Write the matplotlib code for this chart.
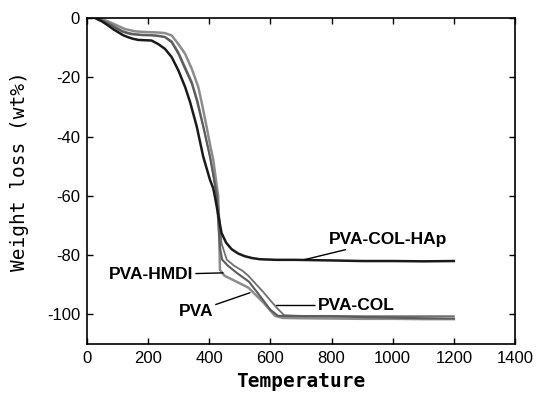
import matplotlib
matplotlib.use("Agg")
import matplotlib.pyplot as plt

plt.rcParams["axes.unicode_minus"] = False

# ---- data ----
t_hap = [26, 50, 70, 86, 102, 118, 135, 150, 168, 190, 211, 233, 255, 277, 299, 321, 337,
         359, 380, 402, 413, 419, 425, 432, 440, 455, 473, 495, 517, 540, 566, 620, 680,
         800, 900, 1000, 1100, 1200]
w_hap = [0, -1.2, -2.6, -3.8, -4.8, -5.8, -6.5, -7.0, -7.4, -7.5, -7.6, -8.8, -10.4, -13.2,
         -17.7, -23.3, -28.3, -36.6, -46.7, -54.5, -57.5, -60.6, -64, -68, -72.5, -75.8,
         -78, -79.5, -80.4, -81.0, -81.4, -81.6, -81.6, -81.8, -82, -82, -82.1, -82]

t_hmdi = [30, 55, 81, 97, 113, 130, 146, 180, 211, 233, 255, 277, 299, 321, 343, 359, 380,
          402, 413, 424, 430, 436, 442, 460, 490, 530, 560, 600, 625, 700, 800, 900, 1000,
          1100, 1200]
w_hmdi = [0, -1.2, -2.6, -3.6, -4.5, -5.1, -5.5, -5.8, -5.9, -6.1, -6.5, -8.2, -12.1, -17.2,
          -22.2, -27.8, -36.6, -46.7, -53, -60, -70, -78, -81.5, -83.5, -86, -89, -93, -98.5,
          -100.5, -100.6, -100.7, -100.9, -101.1, -101.3, -101.4]

t_col = [32, 58, 84, 100, 116, 133, 150, 180, 211, 233, 255, 277, 299, 321, 343, 362, 383,
         405, 415, 426, 432, 440, 457, 480, 510, 528, 550, 577, 600, 620, 645, 700, 800,
         900, 1000, 1100, 1200]
w_col = [0, -1.1, -2.4, -3.4, -4.3, -4.9, -5.3, -5.6, -5.7, -5.9, -6.3, -7.8, -11.5, -16.5,
         -21.5, -28.0, -37.5, -48, -54, -60, -66, -76, -81.5, -83.5, -85.4, -87, -89.5,
         -92.5, -95.3, -97.7, -100.3, -100.5, -100.5, -100.6, -100.6, -100.6, -100.6]

t_pva = [40, 70, 100, 124, 140, 157, 185, 211, 233, 255, 277, 299, 321, 343, 364, 375, 391,
         402, 413, 421, 429, 432, 435, 450, 480, 528, 577, 615, 640, 700, 800, 900, 1000,
         1100, 1200]
w_pva = [0, -1.2, -2.6, -3.7, -4.1, -4.5, -4.7, -4.8, -4.9, -5.1, -5.9, -8.8, -12.1, -17.2,
         -23.3, -28.4, -36.6, -42.5, -47.8, -54, -60, -72, -85, -87, -88.5, -91, -96,
         -100.5, -101.2, -101.3, -101.4, -101.5, -101.5, -101.6, -101.6]

x_ticks = [0, 200, 400, 600, 800, 1000, 1200, 1400]
y_ticks = [0, -20, -40, -60, -80, -100]

sans = ["Liberation Sans", "DejaVu Sans"]
mono = ["DejaVu Sans Mono", "DejaVu Sans"]

fig = plt.figure(figsize=(5.36, 3.99), dpi=100)
ax = fig.add_axes([0.1623, 0.1378, 0.7985, 0.8171])

ax.plot(t_pva, w_pva, color="#8c8c8c", lw=1.8)
ax.plot(t_col, w_col, color="#707070", lw=1.3)
ax.plot(t_hmdi, w_hmdi, color="#5c5c5c", lw=1.5)
ax.plot(t_hap, w_hap, color="#1a1a1a", lw=1.8)

ax.set_xlim(0, 1400)
ax.set_ylim(-110, 0)
ax.set_xticks(x_ticks)
ax.set_yticks(y_ticks)
ax.tick_params(direction="in", top=True, right=True, length=4, width=1.0,
               labelsize=12, pad=5)
for lab in ax.get_xticklabels() + ax.get_yticklabels():
    lab.set_family(sans)
for s in ax.spines.values():
    s.set_linewidth(1.2)

ax.set_xlabel("Temperature", family=mono, fontsize=14, fontweight="bold", labelpad=4)
ax.set_ylabel("Weight loss (wt%)", family=mono, fontsize=14, labelpad=6)
ax.yaxis.set_label_coords(-0.135, 0.53)

ann = dict(family=sans, fontsize=12.5, fontweight="bold")
lp = dict(arrowstyle="-", color="black", lw=1.0, shrinkA=0, shrinkB=0)
ax.annotate("PVA-COL-HAp", xy=(713, -81.5), xytext=(790, -74.7), ha="left", va="center",
            arrowprops=lp, **ann)
ax.annotate("PVA-HMDI", xy=(445, -86), xytext=(347, -86.6), ha="right", va="center",
            arrowprops=lp, **ann)
ax.annotate("PVA", xy=(533, -92.7), xytext=(412, -99), ha="right", va="center",
            arrowprops=lp, **ann)
ax.annotate("PVA-COL", xy=(620, -97), xytext=(755, -97), ha="left", va="center",
            arrowprops=lp, **ann)

fig.savefig("out.png", dpi=100)
